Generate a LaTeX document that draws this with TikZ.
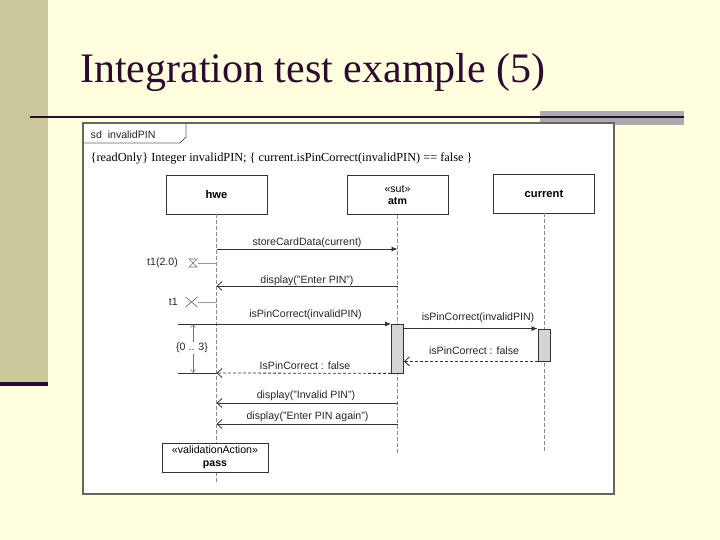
\documentclass[tikz,border=0pt]{standalone}
\usepackage{fontspec}
\setmainfont{Liberation Serif}
\setsansfont{Liberation Sans}
\usetikzlibrary{arrows.meta,calc}
\definecolor{bg}{HTML}{FFFFE0}
\definecolor{sidebar}{HTML}{C8C89A}
\definecolor{titlecol}{HTML}{2E0A30}
\definecolor{graybar}{HTML}{ABABAF}
\definecolor{framecol}{HTML}{666666}
\definecolor{actcol}{HTML}{D4D4D4}
\begin{document}
\begin{tikzpicture}[x=1pt,y=-1pt,
  lbl/.style={font=\sffamily\fontsize{10.6}{12}\selectfont, text=black!85, inner sep=0pt},
  headbox/.style={draw=black!80, fill=white, line width=0.8pt, minimum width=101pt, minimum height=39pt, align=center, font=\sffamily\fontsize{10.6}{12.5}\selectfont, inner sep=0pt},
  lifeline/.style={draw=black!45, dash pattern=on 4pt off 2pt, line width=0.6pt},
  sync/.style={draw=black!80, line width=0.8pt, -{Latex[length=6pt,width=5pt]}},
  reply/.style={draw=black!80, line width=0.8pt, -{Straight Barb[length=5pt,width=9pt]}},
  dreply/.style={reply, dash pattern=on 3pt off 2pt},
  actbox/.style={draw=black!80, fill=actcol, line width=0.8pt, minimum width=12pt, inner sep=0pt},
  timeline/.style={draw=black!40, line width=0.6pt},
]
\useasboundingbox (0,0) rectangle (720,540);
\fill[bg] (0,0) rectangle (720,540);
% side bar
\fill[sidebar] (0,0) rectangle (48,382);
\fill[titlecol] (0,382) rectangle (48,385.5);
% title
\node[anchor=base west, inner sep=0pt, font=\fontsize{42}{48}\selectfont, text=titlecol] (title) at (80,83) {Integration test example (5)};
% rule
\fill[graybar] (540,111) rectangle (684,125);
\draw[titlecol, line width=2pt] (30,117.5) -- (684,117.5);
% frame
\draw[framecol, fill=white, line width=1.2pt] (83,123) rectangle (614,494);
\draw[framecol, line width=0.8pt] (83,143) -- (180,143) -- (186,137) -- (186,123);
\node[lbl, anchor=west] (sd) at (90.5,135) {sd\ \ invalidPIN};
\node[anchor=west, inner sep=0pt, font=\fontsize{12.3}{14}\selectfont] (guard) at (90.5,158) {\{readOnly\} Integer invalidPIN; \{ current.isPinCorrect(invalidPIN) == false \}};
% lifeline heads
\node[headbox, font=\sffamily\fontsize{11.2}{13}\selectfont] (hwe) at (216.5,194.5) {\textbf{hwe}};
\node[headbox] (atm) at (397.5,195) {«sut»\\\textbf{atm}};
\node[headbox, font=\sffamily\fontsize{11.2}{13}\selectfont] (cur) at (544,193.5) {\textbf{current}};
% lifelines
\coordinate (hweEnd) at (216.5,482);
\coordinate (atmEnd) at (397.5,453);
\coordinate (curEnd) at (544,452);
\draw[lifeline] (hwe.south) -- (hweEnd);
\draw[lifeline] (atm.south) -- (atmEnd);
\draw[lifeline] (cur.south) -- (curEnd);
% activations
\node[actbox, minimum height=49pt] (act1) at (397.5,348.5) {};
\node[actbox, minimum height=32pt] (act2) at (544,345) {};
% message anchor points
\coordinate (h1) at (216.5,249); \coordinate (a1) at (397.5,249);
\coordinate (h2) at (216.5,286); \coordinate (a2) at (397.5,286);
\coordinate (h3) at (216.5,324);
\coordinate (h4) at (216.5,373);
\coordinate (h5) at (216.5,403); \coordinate (a5) at (397.5,403);
\coordinate (h6) at (216.5,424); \coordinate (a6) at (397.5,424);
% messages
\draw[sync] (h1) -- (a1);
\node[lbl] (m1) at (307,243) {storeCardData(current)};
\draw[reply] (a2) -- (h2);
\node[lbl] (m2) at (307,280.5) {display("Enter PIN")};
\draw[sync] (h3) -- (act1.west |- h3);
\node[lbl] (m3) at (305.5,315) {isPinCorrect(invalidPIN)};
\draw[sync] (act1.east |- act2.north) -- (act2.north west);
\node[lbl] (m4) at (478,318) {isPinCorrect(invalidPIN)};
\draw[dreply] (act2.south west) -- (act1.east |- act2.south);
\node[lbl] (m5) at (474,350.5) {isPinCorrect : false};
\draw[dreply] (act1.south west) -- (h4);
\node[lbl] (m6) at (305,366) {IsPinCorrect : false};
\draw[reply] (a5) -- (h5);
\node[lbl] (m7) at (306,396) {display("Invalid PIN")};
\draw[reply] (a6) -- (h6);
\node[lbl] (m8) at (307.5,416.5) {display("Enter PIN again")};
% time observations
\coordinate (hg) at (193,263);
\draw[black!55, line width=0.7pt] ($(hg)+(-4,-4)$) -- ($(hg)+(4,-4)$) -- ($(hg)+(-4,4)$) -- ($(hg)+(4,4)$) -- cycle;
\draw[timeline] (198,263) -- (hg -| hwe.south);
\node[lbl, anchor=east] (t1a) at (178,263) {t1(2.0)};
\coordinate (tx) at (191.5,302);
\draw[black!55, line width=0.7pt] ($(tx)+(-6,-5)$) -- ($(tx)+(6,5)$) ($(tx)+(-6,5)$) -- ($(tx)+(6,-5)$);
\draw[timeline] (198,302) -- (tx -| hwe.south);
\node[lbl, anchor=east] (t1b) at (178,302) {t1};
% duration constraint
\coordinate (d1) at (178,324);
\coordinate (d2) at (178,373);
\draw[black!80, line width=0.8pt] (d1) -- (h3);
\draw[black!80, line width=0.8pt] (d2) -- (h4);
\draw[black!55, line width=0.6pt, {Straight Barb[length=3pt,width=5pt]}-{Straight Barb[length=3pt,width=5pt]}] (193,324) -- (193,373);
\node[lbl, fill=white, inner sep=1pt] (dur) at (192,348) {\{0 .. 3\}};
% validation action
\node[headbox, minimum width=106pt, minimum height=29pt] (pass) at (215,457.5) {«validationAction»\\\textbf{pass}};
\end{tikzpicture}
\end{document}
